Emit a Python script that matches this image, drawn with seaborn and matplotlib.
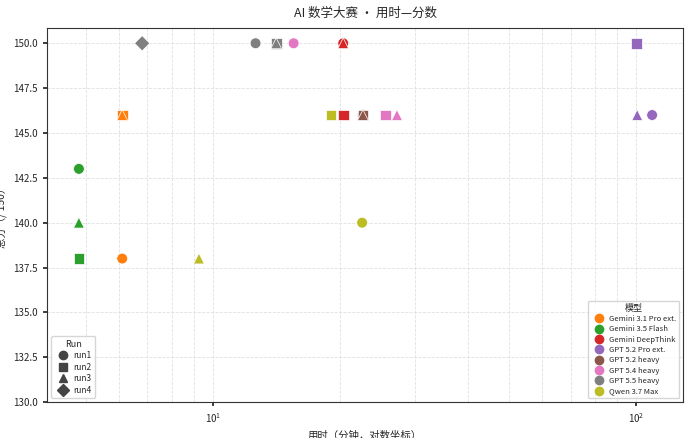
import matplotlib
matplotlib.use("Agg")
import matplotlib.pyplot as plt
import seaborn as sns
import pandas as pd
from matplotlib.lines import Line2D

sns.set_theme(style="white")
plt.rcParams['font.family'] = ['Noto Sans CJK SC', 'DejaVu Sans']
plt.rcParams['axes.unicode_minus'] = False

models = ["Gemini 3.1 Pro ext.", "Gemini 3.5 Flash", "Gemini DeepThink", "GPT 5.2 Pro ext.",
          "GPT 5.2 heavy", "GPT 5.4 heavy", "GPT 5.5 heavy", "Qwen 3.7 Max"]
colors = ["#ff7f0e", "#2ca02c", "#d62728", "#9467bd", "#8c564b", "#e377c2", "#7f7f7f", "#bcbd22"]
pt_model = ["Gemini 3.1 Pro ext."]*3 + ["Gemini 3.5 Flash"]*3 + ["Gemini DeepThink"]*3 + \
           ["GPT 5.2 Pro ext."]*3 + ["GPT 5.2 heavy"]*3 + ["GPT 5.4 heavy"]*3 + \
           ["GPT 5.5 heavy"]*4 + ["Qwen 3.7 Max"]*3
pt_run = ["run1", "run2", "run3"]*6 + ["run1", "run2", "run3", "run4"] + ["run1", "run2", "run3"]
pt_time = [6.1, 6.1, 6.1, 4.82, 4.82, 4.82, 20.3, 20.3, 20.3,
           109, 100, 100.5, 22.6, 22.6, 22.6, 15.5, 25.6, 27.2,
           12.6, 14.1, 14.1, 6.8, 22.5, 19.0, 9.26]
pt_score = [138, 146, 146, 143, 138, 140, 150, 146, 150,
            146, 150, 146, 146, 146, 146, 150, 146, 146,
            150, 150, 150, 150, 140, 146, 138]
runs = ["run1", "run2", "run3", "run4"]
markers = {"run1": "o", "run2": "s", "run3": "^", "run4": "D"}

df = pd.DataFrame({"model": pt_model, "run": pt_run, "time": pt_time, "score": pt_score})

fig, ax = plt.subplots(figsize=(6.9, 4.38), dpi=100)
fig.subplots_adjust(left=0.068, right=0.99, top=0.936, bottom=0.082)
sns.scatterplot(data=df, x="time", y="score", hue="model", hue_order=models,
                palette=colors, style="run", style_order=runs, markers=markers,
                s=60, edgecolor="white", linewidth=0.5, ax=ax, legend=False)
ax.set_xscale("log")
ax.set_xlim(4.05, 129)
ax.set_ylim(130, 150.85)
ax.set_yticks([130, 132.5, 135, 137.5, 140, 142.5, 145, 147.5, 150])
ax.set_yticklabels([f"{v:.1f}" for v in ax.get_yticks()])
ax.grid(True, which="both", linestyle="--", color="#e0e0e0", linewidth=0.6)
ax.tick_params(labelsize=7, left=True, bottom=True, length=3)
for s in ax.spines.values():
    s.set_color("#333333")
    s.set_linewidth(0.8)
ax.set_xlabel("用时（分钟，对数坐标）", fontsize=7.5)
ax.set_ylabel("总分（/ 150）", fontsize=7.5)
ax.set_title("AI 数学大赛 · 用时—分数", fontsize=9, pad=8)

mh = [Line2D([], [], marker="o", ls="", color=c, markersize=6) for c in colors]
leg1 = ax.legend(mh, models, title="模型", loc="lower right", fontsize=5.5,
                 title_fontsize=6.5, handletextpad=0.3, labelspacing=0.3, borderpad=0.4)
ax.add_artist(leg1)
rh = [Line2D([], [], marker=markers[r], ls="", color="#444444", markersize=6) for r in runs]
ax.legend(rh, runs, title="Run", loc="lower left", fontsize=6, title_fontsize=6.5,
          handletextpad=0.3, labelspacing=0.3, borderpad=0.4)

fig.savefig("out.png", dpi=100)
